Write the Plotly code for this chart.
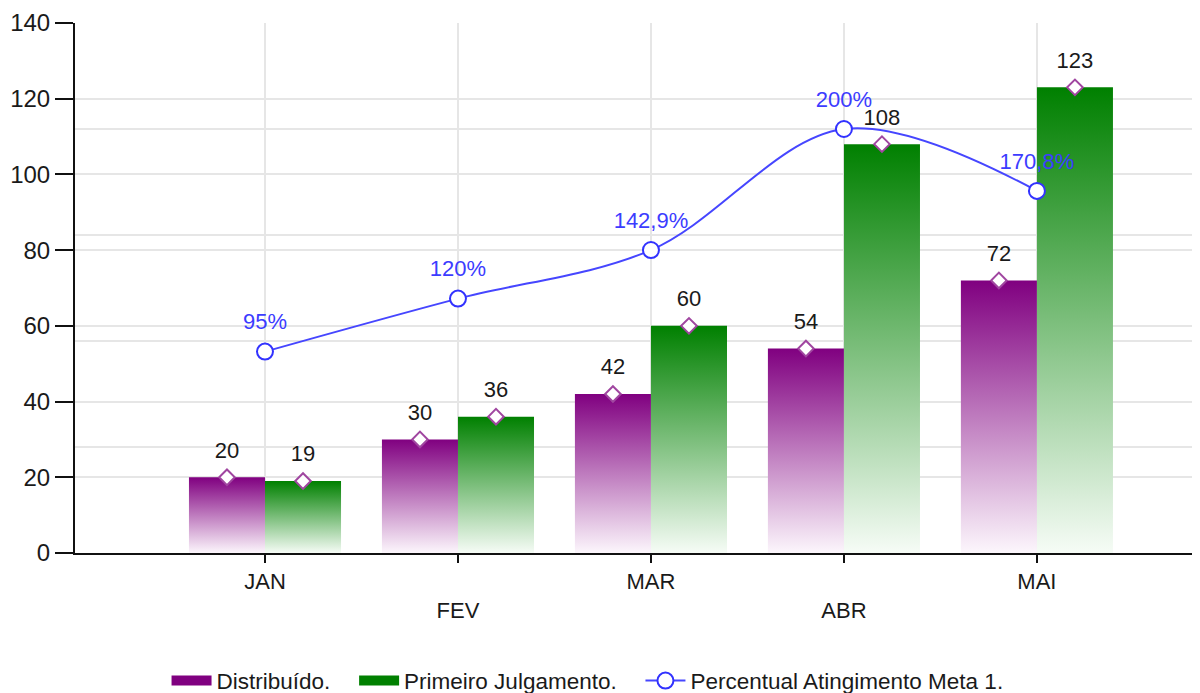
import plotly.graph_objects as go

months = ["JAN", "FEV", "MAR", "ABR", "MAI"]
tick_text = ["JAN", "<br>FEV", "MAR", "<br>ABR", "MAI"]
distribuido = [20, 30, 42, 54, 72]
primeiro_julgamento = [19, 36, 60, 108, 123]
percentual = [95, 120, 142.9, 200, 170.8]
percentual_labels = ["95%", "120%", "142,9%", "200%", "170,8%"]
legend_names = ["Distribuído.", "Primeiro Julgamento.", "Percentual Atingimento Meta 1."]

x_pos = [1, 2, 3, 4, 5]
HALF = 0.197
FONT = "Liberation Sans, Arial, sans-serif"
GAP = "\u00a0\u00a0\u00a0"

fig = go.Figure()

series = [
    (legend_names[0], distribuido, -HALF, "rgb(128,0,128)", "rgb(252,246,252)"),
    (legend_names[1], primeiro_julgamento, HALF, "rgb(0,128,0)", "rgb(246,252,246)"),
]

for name, vals, off, top_col, bot_col in series:
    for i, (xc, v) in enumerate(zip(x_pos, vals)):
        cx = xc + off
        xs = [cx - HALF, cx + HALF, cx + HALF, cx - HALF, cx - HALF]
        ys = [0, 0, v, v, 0]
        fig.add_trace(go.Scatter(
            x=xs, y=ys, mode="none", fill="toself",
            fillgradient=dict(type="vertical",
                              colorscale=[[0, bot_col], [1, top_col]]),
            name=name, legendgroup=name, showlegend=False,
            hoverinfo="skip",
        ))
    fig.add_trace(go.Scatter(
        x=[None], y=[None], mode="lines", name=name + GAP, legendgroup=name,
        line=dict(color=top_col, width=18),
    ))

for name, vals, off, top_col, bot_col in series:
    xs = [xc + off for xc in x_pos]
    fig.add_trace(go.Scatter(
        x=xs, y=vals, mode="markers+text",
        marker=dict(size=21, color="rgba(0,0,0,0)"),
        text=[str(v) for v in vals], textposition="top center",
        textfont=dict(family=FONT, size=22, color="#1a1a1a"),
        showlegend=False, hoverinfo="skip",
    ))
    fig.add_trace(go.Scatter(
        x=xs, y=vals, mode="markers",
        marker=dict(symbol="diamond", size=12, color="white",
                    line=dict(color="rgb(160,70,160)", width=2)),
        showlegend=False, hoverinfo="skip",
    ))

fig.add_trace(go.Scatter(
    x=x_pos, y=percentual, yaxis="y2", mode="lines+markers",
    name=legend_names[2],
    line=dict(color="rgb(70,70,255)", width=2, shape="spline", smoothing=1),
    marker=dict(symbol="circle", size=16, color="white",
                line=dict(color="rgb(50,50,255)", width=2)),
))
fig.add_trace(go.Scatter(
    x=x_pos, y=percentual, yaxis="y2", mode="markers+text",
    marker=dict(size=25, color="rgba(0,0,0,0)"),
    text=percentual_labels, textposition="top center",
    textfont=dict(family=FONT, size=22, color="rgb(60,60,255)"),
    showlegend=False, hoverinfo="skip",
))

fig.update_layout(
    width=1192, height=685,
    margin=dict(l=67, r=0, t=15, b=140, autoexpand=False),
    paper_bgcolor="white", plot_bgcolor="white",
    font=dict(family=FONT, size=22, color="#1a1a1a"),
    xaxis=dict(
        range=[0.0155, 5.845], tickmode="array", tickvals=x_pos, ticktext=tick_text,
        showgrid=True, gridcolor="#E6E6E6", gridwidth=2,
        showline=True, linecolor="#111111", linewidth=2,
        ticks="outside", ticklen=8, tickwidth=2, tickcolor="#111111",
        tickfont=dict(family=FONT, size=22, color="#1a1a1a"),
        zeroline=False, fixedrange=True, automargin=False,
    ),
    yaxis=dict(
        range=[0, 140], tickmode="linear", tick0=0, dtick=20,
        showgrid=True, gridcolor="#E6E6E6", gridwidth=2,
        showline=True, linecolor="#111111", linewidth=2,
        ticks="outside", ticklen=18, tickwidth=2, tickcolor="#111111",
        tickfont=dict(family=FONT, size=24, color="#1a1a1a"),
        zeroline=False, automargin=False,
    ),
    yaxis2=dict(
        range=[0, 250], overlaying="y", side="right", tickmode="linear",
        tick0=0, dtick=50, showgrid=True, gridcolor="#E6E6E6", gridwidth=2,
        showticklabels=False, showline=False, zeroline=False, ticks="",
        automargin=False,
    ),
    legend=dict(orientation="h", x=0.4556, xanchor="center", y=-0.2415,
                yanchor="middle", font=dict(family=FONT, size=22.5, color="#1a1a1a"),
                itemwidth=40, tracegroupgap=0),
    showlegend=True,
)

fig.write_html("out.html")
